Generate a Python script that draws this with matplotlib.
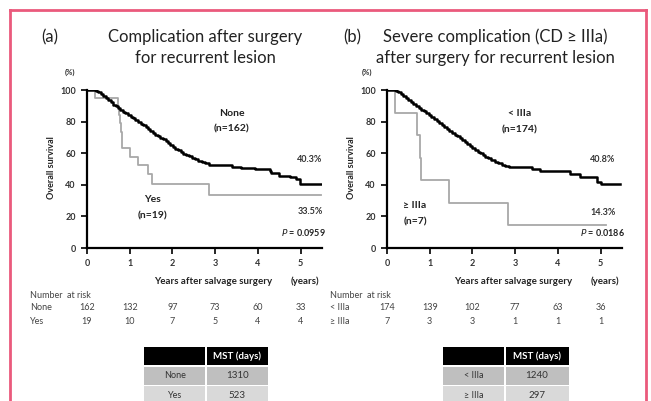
import matplotlib
matplotlib.use("Agg")
import matplotlib.pyplot as plt
from matplotlib.patches import Rectangle

plt.rcParams['font.family'] = ['Lato', 'DejaVu Sans']

W, H = 651, 401

# ---------------- data ----------------
# Panel (a): complication after surgery
a_none_t = [0, 0.2, 0.26, 0.33, 0.38, 0.44, 0.5, 0.55, 0.61, 0.67, 0.72, 0.78, 0.85, 0.9,
            0.96, 1.02, 1.08, 1.13, 1.2, 1.26, 1.31, 1.37, 1.42, 1.48, 1.55, 1.6, 1.66,
            1.72, 1.78, 1.84, 1.9, 1.95, 2.01, 2.07, 2.13, 2.19, 2.25, 2.31, 2.38, 2.45,
            2.52, 2.6, 2.68, 2.76, 2.85, 3.4, 3.6, 3.93, 4.28, 4.31, 4.5, 4.74, 4.9, 4.98,
            5.48]
a_none_s = [100, 99.4, 98.6, 97.5, 96.3, 95, 93.6, 92.2, 90.8, 89.6, 88.6, 87.5, 86.3, 85.2,
            84.1, 83, 82, 81, 79.8, 78.7, 77.6, 76.4, 75.2, 74, 72.8, 71.8, 70.8,
            69.8, 68.7, 67.6, 66.4, 65.2, 64, 62.9, 61.8, 60.8, 59.8, 58.9, 58, 57.1,
            56.2, 55.3, 54.4, 53.5, 52.5, 51.2, 50.4, 49.8, 48.9, 47.7, 45.6, 45.1, 43.5,
            40.3, 40.3]
a_yes_t = [0, 0.19, 0.73, 0.75, 0.77, 0.79, 0.81, 0.83, 1.0, 1.2, 1.43, 1.51, 2.86, 5.48]
a_yes_s = [100, 94.7, 89.5, 84.2, 78.9, 73.7, 68.4, 63.2, 57.9, 52.6, 46.8, 40.2, 33.5, 33.5]

# Panel (b): severe complication (CD >= IIIa)
b_low_t = [0, 0.2, 0.26, 0.32, 0.38, 0.44, 0.5, 0.56, 0.62, 0.68, 0.74, 0.8, 0.86, 0.92,
           0.98, 1.04, 1.1, 1.16, 1.22, 1.28, 1.34, 1.4, 1.46, 1.52, 1.58, 1.64, 1.7,
           1.76, 1.82, 1.88, 1.94, 2.0, 2.06, 2.12, 2.18, 2.24, 2.3, 2.37, 2.44, 2.52,
           2.6, 2.68, 2.76, 2.85, 3.39, 3.58, 4.29, 4.52, 4.91, 5.0, 5.46]
b_low_s = [100, 99.4, 98.5, 97.4, 96.3, 95.1, 93.9, 92.7, 91.4, 90.1, 88.8, 87.6, 86.4, 85.2,
           84, 82.8, 81.5, 80.2, 79, 77.8, 76.6, 75.4, 74.2, 73, 71.8, 70.6, 69.4,
           68.2, 67, 65.8, 64.6, 63.4, 62.2, 61, 59.9, 58.8, 57.8, 56.8, 55.7, 54.6,
           53.6, 52.6, 51.8, 51, 50, 48.9, 46.8, 45.1, 42, 40.8, 40.8]
b_high_t = [0, 0.19, 0.71, 0.77, 0.79, 1.44, 2.84, 5.13]
b_high_s = [100, 85.7, 71.4, 57.1, 42.9, 28.6, 14.3, 14.3]

risk_years = [0, 1, 2, 3, 4, 5]
a_risk_none = [162, 132, 97, 73, 60, 33]
a_risk_yes = [19, 10, 7, 5, 4, 4]
b_risk_low = [174, 139, 102, 77, 63, 36]
b_risk_high = [7, 3, 3, 1, 1, 1]

a_mst_groups = ["None", "Yes"]
a_mst_days = [1310, 523]
b_mst_groups = ["< IIIa", "\u2265 IIIa"]
b_mst_days = [1240, 297]

# ---------------- figure ----------------
fig = plt.figure(figsize=(W / 100, H / 100), dpi=100)
fig.patch.set_facecolor('white')

def fx(x):
    return x / W

def fy(y):
    return 1 - y / H

def T(x, y, s, **kw):
    fig.text(fx(x), fy(y), s, **kw)

# pink border
pink = '#ea5a7c'
fig.add_artist(plt.Line2D([fx(10), fx(10)], [fy(10), 0], color=pink, lw=2))
fig.add_artist(plt.Line2D([fx(646), fx(646)], [fy(10), 0], color=pink, lw=2))
fig.add_artist(plt.Line2D([fx(10), fx(646)], [fy(10), fy(10)], color=pink, lw=2))

def make_panel(x0, black_t, black_s, gray_t, gray_s):
    ax = fig.add_axes([fx(x0), fy(248), 235 / W, (248 - 90) / H])
    ax.set_xlim(0, 5.5)
    ax.set_ylim(0, 100)
    ax.step(black_t, black_s, where='post', color='black', lw=1.8, zorder=3)
    ax.step(gray_t, gray_s, where='post', color='#a8a8a8', lw=1.3, zorder=2)
    for s in ['top', 'right']:
        ax.spines[s].set_visible(False)
    for s in ['left', 'bottom']:
        ax.spines[s].set_linewidth(1.6)
    ax.set_xticks(risk_years)
    ax.set_yticks([0, 20, 40, 60, 80, 100])
    ax.tick_params(direction='out', length=4, width=1.2, labelsize=6.5, pad=4,
                   colors='black')
    for lab in ax.get_xticklabels() + ax.get_yticklabels():
        lab.set_fontweight('bold')
        lab.set_color('#333333')
    ax.patch.set_alpha(0)
    return ax

axa = make_panel(87, a_none_t, a_none_s, a_yes_t, a_yes_s)
axb = make_panel(387, b_low_t, b_low_s, b_high_t, b_high_s)

# titles
tk = dict(fontsize=12, ha='center', va='center', color='#222222')
T(50, 37, "(a)", **tk)
T(205, 37, "Complication after surgery", **tk)
T(205, 58, "for recurrent lesion", **tk)
T(352, 37, "(b)", **tk)
T(495, 37, "Severe complication (CD \u2265 IIIa)", **tk)
T(495, 58, "after surgery for recurrent lesion", **tk)

small = dict(fontsize=5.5, ha='center', va='center', color='#333333', fontweight='bold')
lab = dict(fontsize=7, ha='center', va='center', color='#222222', fontweight='bold')
T(70, 72, "(%)", **small)
T(367, 72, "(%)", **small)
T(52, 168, "Overall survival", rotation=90, fontsize=6.5, ha='center', va='center',
  color='#222222', fontweight='bold')
T(352, 168, "Overall survival", rotation=90, fontsize=6.5, ha='center', va='center',
  color='#222222', fontweight='bold')
T(213, 281, "Years after salvage surgery", **lab)
T(305, 281, "(years)", **lab)
T(513, 281, "Years after salvage surgery", **lab)
T(605, 281, "(years)", **lab)

grp = dict(fontsize=7.5, ha='center', va='center', color='#222222', fontweight='bold')
T(232, 113, "None", **grp)
T(232, 129, "(n=162)", **grp)
T(152, 200, "Yes", **grp)
T(152, 216, "(n=19)", **grp)
T(520, 113, "< IIIa", **grp)
T(520, 130, "(n=174)", **grp)
T(415, 205, "\u2265 IIIa", **grp)
T(415, 222, "(n=7)", **grp)

pct = dict(fontsize=6.5, ha='center', va='center', color='#333333', fontweight='bold')
T(310, 160, "40.3%", **pct)
T(310, 211, "33.5%", **pct)
T(603, 160, "40.8%", **pct)
T(603, 212, "14.3%", **pct)
T(326, 233, "$\\mathbf{\\it{P}}$ = 0.0959", fontsize=6.5, ha='right', va='center',
  color='#222222', fontweight='bold')
T(625, 233, "$\\mathbf{\\it{P}}$ = 0.0186", fontsize=6.5, ha='right', va='center',
  color='#222222', fontweight='bold')

# number at risk
rk = dict(fontsize=6.5, ha='left', va='center', color='#444444')
rn = dict(fontsize=6.5, ha='center', va='center', color='#444444')
T(30, 295, "Number  at risk", **rk)
T(30, 308, "None", **rk)
T(30, 321, "Yes", **rk)
T(330, 295, "Number  at risk", **rk)
T(330, 308, "< IIIa", **rk)
T(330, 321, "\u2265 IIIa", **rk)

fig.canvas.draw()

def risk_row(ax, vals, y):
    for yr, v in zip(risk_years, vals):
        xd = ax.transData.transform((yr, 0))[0]
        T(xd, y, str(v), **rn)

risk_row(axa, a_risk_none, 308)
risk_row(axa, a_risk_yes, 321)
risk_row(axb, b_risk_low, 308)
risk_row(axb, b_risk_high, 321)

# MST tables
def table(x0, xm, x1, groups, days):
    rows = [(347, 365, 'black', "", "MST (days)", 'white')]
    fills = ['#bfbfbf', '#d9d9d9']
    for i, (g, d) in enumerate(zip(groups, days)):
        y0 = 367 + i * 19
        rows.append((y0, y0 + 18, fills[i], g, str(d), '#333333'))
    for (ya, yb, c, t1, t2, tc) in rows:
        fig.add_artist(Rectangle((fx(x0), fy(yb)), (xm - x0 - 1) / W, (yb - ya) / H,
                                 facecolor=c, edgecolor='none'))
        fig.add_artist(Rectangle((fx(xm + 1), fy(yb)), (x1 - xm - 1) / W, (yb - ya) / H,
                                 facecolor=c, edgecolor='none'))
        yc = (ya + yb) / 2
        if t1:
            T((x0 + xm) / 2, yc, t1, fontsize=6.5, ha='center', va='center', color=tc)
        T((xm + x1) / 2, yc, t2, fontsize=7, ha='center', va='center', color=tc,
          fontweight='bold' if tc == 'white' else 'normal')

table(144, 206, 268, a_mst_groups, a_mst_days)
table(443, 505, 569, b_mst_groups, b_mst_days)

fig.savefig("out.png", dpi=100, facecolor='white')
